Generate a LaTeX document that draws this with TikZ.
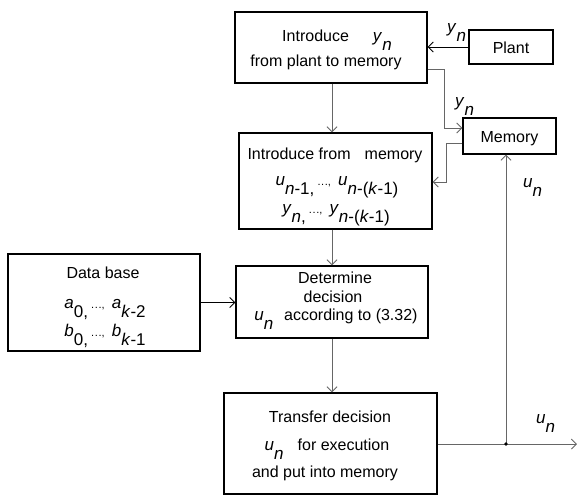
\documentclass[tikz,border=0pt]{standalone}
\usepackage{fontspec}
\setmainfont{Liberation Sans}
\usetikzlibrary{arrows.meta}
\newcommand\vs[2]{{\fontsize{17}{20}\selectfont\textit{#1}\raisebox{-9.5pt}{#2}}}
\newcommand\dts{\hspace{0.2em}{\fontsize{11}{12}\selectfont .\kern0.6pt.\kern0.6pt.,}\hspace{0.45em}}
\begin{document}
\begin{tikzpicture}[x=1pt,y=-1pt,
  box/.style={draw, line width=1.4pt, inner sep=0pt},
  lbl/.style={anchor=base, inner sep=0pt, font=\fontsize{16}{19}\selectfont},
  lblw/.style={anchor=base west, inner sep=0pt, font=\fontsize{16}{19}\selectfont},
  conn/.style={draw=black!60, line width=0.9pt, -{Straight Barb[length=5pt,width=10pt]}},
  blk/.style={draw=black, line width=0.9pt, -{Straight Barb[length=5pt,width=10pt]}}]
\useasboundingbox (0,0) rectangle (577,496);
% boxes
\node[box, minimum width=192pt, minimum height=71pt] (intro) at (331,47.5) {};
\node[box, minimum width=84pt, minimum height=34pt] (plant) at (511,47) {};
\node[box, minimum width=93pt, minimum height=36pt] (memory) at (509.5,136) {};
\node[box, minimum width=193pt, minimum height=96pt] (frommem) at (335.5,181) {};
\node[box, minimum width=192pt, minimum height=72pt] (decide) at (332,302) {};
\node[box, minimum width=192pt, minimum height=97pt] (db) at (104,302.5) {};
\node[box, minimum width=213pt, minimum height=101pt] (transfer) at (330.5,443.5) {};
% texts
\node[lbl] (t1a) at (337,41) {Introduce\hspace{1.5em}\vs{y}{\textit{n}}};
\node[lbl] (t1b) at (326,66) {from plant to memory};
\node[lbl] (tpl) at (511,53) {Plant};
\node[lbl] (tmem) at (509.5,142) {Memory};
\node[lbl] (t2a) at (335,159) {Introduce from\hspace{0.6em} memory};
\node[lbl] (t2b) at (337,185) {\vs{u}{\textit{n}-1,}\dts\vs{u}{\textit{n}-(\textit{k}-1)}};
\node[lbl] (t2c) at (336,213) {\vs{y}{\textit{n},}\dts\vs{y}{\textit{n}-(\textit{k}-1)}};
\node[lbl] (t3a) at (335,283) {Determine};
\node[lbl] (t3b) at (333,302) {decision};
\node[lbl] (t3c) at (336,320) {\vs{u}{\textit{n}}\hspace{0.4em} according to (3.32)};
\node[lbl] (tda) at (103,278) {Data base};
\node[lbl] (tdb) at (105,308) {\vs{a}{0,}\dts\vs{a}{\textit{k}-2}};
\node[lbl] (tdc) at (105,336) {\vs{b}{0,}\dts\vs{b}{\textit{k}-1}};
\node[lbl] (t4a) at (330,422) {Transfer decision};
\node[lbl] (t4b) at (327,450) {\vs{u}{\textit{n}}\hspace{0.6em} for execution};
\node[lbl] (t4c) at (325,477) {and put into memory};
% signal labels
\node[lblw] (lyp) at (447,32) {\vs{y}{\textit{n}}};
\node[lblw] (lym) at (455,106) {\vs{y}{\textit{n}}};
\node[lblw] (lum) at (523,187) {\vs{u}{\textit{n}}};
\node[lblw] (luo) at (536,423) {\vs{u}{\textit{n}}};
% connectors
\coordinate (j) at (506,444);
\coordinate (out) at (577,444);
\draw[blk] (plant.west) -- (plant.west -| intro.east);
\draw[conn] (intro.south -| 332,0) -- (frommem.north -| 332,0);
\draw[conn] ([yshift=14pt]intro.south east) -- ++(17,0) |- ([yshift=8pt]memory.west);
\draw[conn] ([yshift=-7pt]memory.west) -- ++(-16,0) |- ([yshift=-1pt]frommem.east);
\draw[conn] (frommem.south -| decide.north) -- (decide.north);
\draw[conn] (decide.south) -- (decide.south |- transfer.north);
\draw[blk] (db.east) -- (db.east -| decide.west);
\draw[conn] (transfer.east |- j) -- (out);
\draw[conn] (j) -- (j |- memory.south);
\fill (j) circle (1.8pt);
\end{tikzpicture}
\end{document}
